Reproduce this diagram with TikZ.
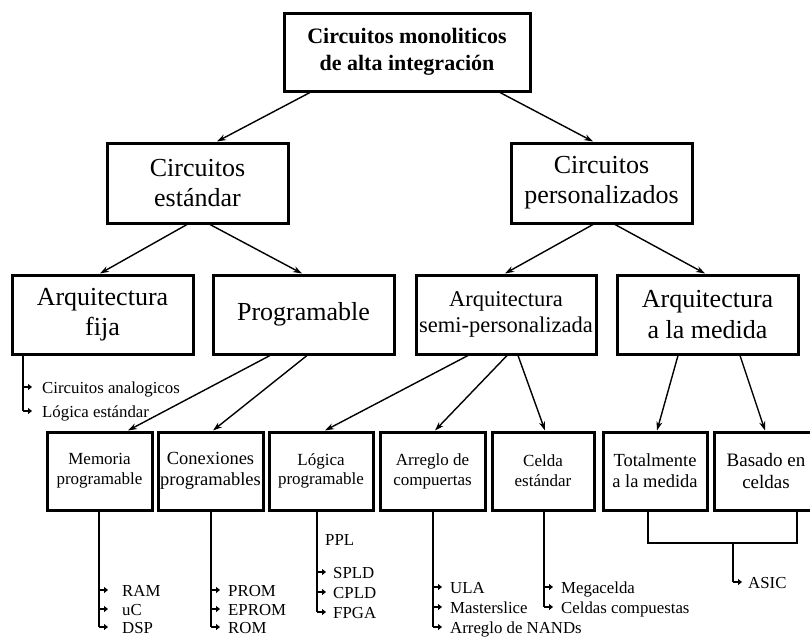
\documentclass[tikz,border=0pt]{standalone}
\usepackage{fontspec}
\setmainfont{Liberation Serif}
\usetikzlibrary{arrows.meta}
\begin{document}
\begin{tikzpicture}[x=1pt,y=-1pt,
  box/.style={draw, line width=3pt, rectangle, inner sep=0pt, align=center},
  conn/.style={line width=1.4pt, -{Stealth[length=9pt,width=6pt]}},
  listline/.style={line width=2.6pt},
  tick/.style={line width=2.2pt, -{Triangle[length=4pt,width=6pt]}},
  item/.style={inner sep=0pt, anchor=base west, text height=12pt, text depth=0pt, font=\fontsize{16.8}{20}\selectfont},
]
\useasboundingbox[fill=white] (0,0) rectangle (810,637);

% boxes
\node[box, minimum width=246pt, minimum height=78pt, font=\bfseries\fontsize{22}{27}\selectfont] (top) at (407,52) {Circuitos monoliticos\\de alta integración};
\node[box, minimum width=181pt, minimum height=80pt, font=\fontsize{26}{30}\selectfont] (std) at (197.5,183) {Circuitos\\estándar};
\node[box, minimum width=181pt, minimum height=80pt, font=\fontsize{26}{30}\selectfont] (pers) at (601.5,183) {Circuitos\\personalizados};
\node[box, minimum width=181pt, minimum height=79pt, font=\fontsize{26}{30}\selectfont] (fija) at (102.5,314.5) {Arquitectura\\fija};
\node[box, minimum width=181pt, minimum height=79pt, font=\fontsize{26}{30}\selectfont] (prog) at (303.5,314.5) {Programable};
\node[box, minimum width=180pt, minimum height=79pt, font=\fontsize{22.5}{26}\selectfont] (semi) at (506,314.5) {Arquitectura\\semi-personalizada};
\node[box, minimum width=181pt, minimum height=79pt, font=\fontsize{26}{31}\selectfont] (medida) at (707.5,314.5) {Arquitectura\\a la medida};

\node[box, minimum width=105pt, minimum height=78pt, font=\fontsize{17}{20}\selectfont] (mem) at (99.5,471) {Memoria\\programable};
\node[box, minimum width=105pt, minimum height=78pt, font=\fontsize{18.5}{21}\selectfont] (con) at (210.5,471) {Conexiones\\programables};
\node[box, minimum width=104pt, minimum height=78pt, font=\fontsize{17}{19}\selectfont] (log) at (321,471) {Lógica\\programable};
\node[box, minimum width=105pt, minimum height=78pt, font=\fontsize{17}{20}\selectfont] (arreglo) at (432.5,471) {Arreglo de\\compuertas};
\node[box, minimum width=102pt, minimum height=78pt, font=\fontsize{17}{20}\selectfont] (cel) at (543,471) {Celda\\estándar};
\node[box, minimum width=104pt, minimum height=78pt, font=\fontsize{18.5}{21}\selectfont] (tot) at (655,471) {Totalmente\\a la medida};
\node[box, minimum width=104pt, minimum height=78pt, font=\fontsize{19}{22}\selectfont] (bas) at (766,471) {Basado en\\celdas};

% arrows
\draw[conn] ([xshift=-97pt]top.south) -- ([xshift=19.5pt]std.north);
\draw[conn] ([xshift=93pt]top.south) -- ([xshift=-8.5pt]pers.north);
\draw[conn] ([xshift=-10.5pt]std.south) -- ([xshift=-2.5pt]fija.north);
\draw[conn] ([xshift=12.5pt]std.south) -- ([xshift=-1.5pt]prog.north);
\draw[conn] ([xshift=-8.5pt]pers.south) -- ([xshift=-1pt]semi.north);
\draw[conn] ([xshift=13.5pt]pers.south) -- ([xshift=-2.5pt]medida.north);
\draw[conn] ([xshift=-33.5pt]prog.south) -- ([xshift=28.5pt]mem.north);
\draw[conn] ([xshift=3.5pt]prog.south) -- ([xshift=2.5pt]con.north);
\draw[conn] ([xshift=-38pt]semi.south) -- ([xshift=4pt]log.north);
\draw[conn] ([xshift=1pt]semi.south) -- ([xshift=2.5pt]arreglo.north);
\draw[conn] ([xshift=12pt]semi.south) -- ([xshift=2pt]cel.north);
\draw[conn] ([xshift=-29.5pt]medida.south) -- ([xshift=2pt]tot.north);
\draw[conn] ([xshift=32.5pt]medida.south) -- ([xshift=-1pt]bas.north);

% list: arquitectura fija
\node[item] (ca) at (42,393) {Circuitos analogicos};
\node[item] (le) at (42,417) {Lógica estándar};
\coordinate (fx) at (23,0);
\draw[listline] (fija.south -| fx) -- (le.west -| fx);
\draw[tick] (ca.west -| fx) -- ++(9,0);
\draw[tick] (le.west -| fx) -- ++(9,0);

% list: memoria
\node[item] (ram) at (122,596) {RAM};
\node[item] (uc) at (122,615) {uC};
\node[item] (dsp) at (122,633) {DSP};
\coordinate (mx) at (99,0);
\draw[listline] (mem.south -| mx) -- (dsp.west -| mx);
\foreach \n in {ram,uc,dsp} \draw[tick] (\n.west -| mx) -- ++(9,0);

% list: conexiones
\node[item] (prom) at (228,596) {PROM};
\node[item] (eprom) at (228,615) {EPROM};
\node[item] (rom) at (228,633) {ROM};
\coordinate (cx) at (211,0);
\draw[listline] (con.south -| cx) -- (rom.west -| cx);
\foreach \n in {prom,eprom,rom} \draw[tick] (\n.west -| cx) -- ++(9,0);

% list: logica
\node[item] (ppl) at (325,545) {PPL};
\node[item] (spld) at (333,578) {SPLD};
\node[item] (cpld) at (333,598) {CPLD};
\node[item] (fpga) at (333,618) {FPGA};
\coordinate (lx) at (317,0);
\draw[listline] (log.south -| lx) -- (fpga.west -| lx);
\foreach \n in {spld,cpld,fpga} \draw[tick] (\n.west -| lx) -- ++(9,0);

% list: arreglo
\node[item] (ula) at (450,593) {ULA};
\node[item] (master) at (450,613) {Masterslice};
\node[item] (nand) at (450,633) {Arreglo de NANDs};
\coordinate (ax) at (433,0);
\draw[listline] (arreglo.south -| ax) -- (nand.west -| ax);
\foreach \n in {ula,master,nand} \draw[tick] (\n.west -| ax) -- ++(9,0);

% list: celda
\node[item] (mega) at (561,593) {Megacelda};
\node[item] (comp) at (561,613) {Celdas compuestas};
\coordinate (ex) at (544,0);
\draw[listline] (cel.south -| ex) -- (comp.west -| ex);
\foreach \n in {mega,comp} \draw[tick] (\n.west -| ex) -- ++(9,0);

% bracket and ASIC
\coordinate (b1) at (648,543);
\coordinate (b2) at (797,543);
\coordinate (bm) at (733,543);
\draw[listline] (tot.south -| b1) -- (b1) -- (b2) -- (bas.south -| b2);
\node[item] (asic) at (748,588) {ASIC};
\draw[listline] (bm) -- (asic.west -| bm);
\draw[tick] (asic.west -| bm) -- ++(9,0);
\end{tikzpicture}
\end{document}
